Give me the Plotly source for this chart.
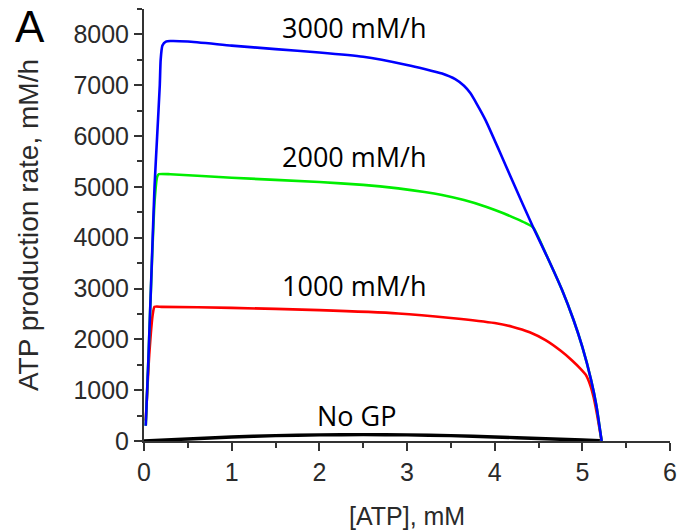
import plotly.graph_objects as go

# --- data ---
blue_x = [0.02, 0.05, 0.09, 0.12, 0.15, 0.18, 0.19, 0.21, 0.25, 0.3, 0.5, 1.0, 1.5, 2.0, 2.5, 3.0, 3.2, 3.4, 3.55, 3.65, 3.72, 3.8, 3.9, 4.05, 4.2, 4.44, 4.6, 4.77, 4.9, 5.0, 5.1, 5.16, 5.22]
blue_y = [300, 1600, 3550, 5000, 6000, 7000, 7500, 7780, 7860, 7870, 7860, 7780, 7710, 7645, 7560, 7400, 7320, 7230, 7120, 6990, 6850, 6620, 6300, 5720, 5130, 4200, 3620, 2965, 2380, 1850, 1200, 700, 0]

green_x = [0.02, 0.05, 0.09, 0.12, 0.15, 0.17, 0.3, 1.0, 2.0, 2.5, 2.9, 3.2, 3.4, 3.65, 3.9, 4.1, 4.25, 4.35, 4.44, 4.6, 4.77, 4.9, 5.0, 5.1, 5.16, 5.22]
green_y = [300, 1600, 3500, 4700, 5200, 5250, 5250, 5180, 5095, 5040, 4970, 4900, 4840, 4740, 4610, 4480, 4370, 4290, 4200, 3620, 2965, 2380, 1850, 1200, 700, 0]

red_x = [0.02, 0.06, 0.1, 0.12, 0.2, 1.0, 2.0, 2.9, 3.5, 4.0, 4.2, 4.4, 4.58, 4.75, 4.88, 4.98, 5.04, 5.09, 5.13, 5.17, 5.22]
red_y = [400, 1700, 2500, 2640, 2640, 2620, 2575, 2510, 2420, 2320, 2250, 2140, 1985, 1780, 1590, 1420, 1300, 1100, 850, 500, 0]

black_x = [0.0, 0.5, 1.0, 1.5, 2.0, 2.5, 3.0, 3.5, 4.0, 4.5, 5.0, 5.2]
black_y = [0, 40, 80, 105, 120, 125, 120, 105, 80, 50, 20, 5]

labels = ["3000 mM/h", "2000 mM/h", "1000 mM/h", "No GP"]
label_x = [2.4, 2.4, 2.4, 2.42]
label_y = [8140, 5605, 3050, 510]

fig = go.Figure()
for xs, ys, col, w in [(black_x, black_y, "black", 3.4), (red_x, red_y, "#ff0000", 2.6),
                       (green_x, green_y, "#00ee00", 2.6), (blue_x, blue_y, "#0000ff", 2.6)]:
    fig.add_trace(go.Scatter(x=xs, y=ys, mode="lines",
                             line=dict(color=col, width=w, shape="spline", smoothing=0.5),
                             showlegend=False, hoverinfo="skip"))

for t, lx, ly in zip(labels, label_x, label_y):
    fig.add_annotation(x=lx, y=ly, text=t, showarrow=False, xanchor="center", yanchor="middle",
                       font=dict(family="Open Sans", size=27, color="black"))

axis_common = dict(showgrid=False, zeroline=False, showline=True, linecolor="#333", linewidth=2,
                   ticks="outside", ticklen=8, tickwidth=2, tickcolor="#333",
                   tickfont=dict(family="Liberation Sans, Arial", size=25, color="#2a2a2a"))

fig.update_xaxes(range=[0, 6], dtick=1, tick0=0,
                 minor=dict(ticks="outside", ticklen=5, tickwidth=1.5, tickcolor="#333", dtick=0.5),
                 **axis_common)
fig.update_yaxes(range=[0, 8500], dtick=1000, tick0=0,
                 minor=dict(ticks="outside", ticklen=5, tickwidth=1.5, tickcolor="#333", dtick=500),
                 **axis_common)

# axis titles and panel letter
fig.add_annotation(xref="paper", yref="paper", x=0, y=0.5, xshift=-116, text="ATP production rate, mM/h",
                   textangle=-90, showarrow=False, xanchor="center", yanchor="middle",
                   font=dict(family="Liberation Sans, Arial", size=28, color="#2a2a2a"))
fig.add_annotation(xref="paper", yref="paper", x=0.5, y=0, yshift=-75, text="[ATP], mM",
                   showarrow=False, xanchor="center", yanchor="middle",
                   font=dict(family="Liberation Sans, Arial", size=25, color="#2a2a2a"))
fig.add_annotation(xref="paper", yref="paper", x=0, y=1, xshift=-114, yshift=-17, text="A",
                   showarrow=False, xanchor="center", yanchor="middle",
                   font=dict(family="Liberation Sans, Arial", size=44, color="black"))

fig.update_layout(width=686, height=531, margin=dict(l=144, r=10, t=9, b=90),
                  plot_bgcolor="white", paper_bgcolor="white")

fig.write_html("out.html")
